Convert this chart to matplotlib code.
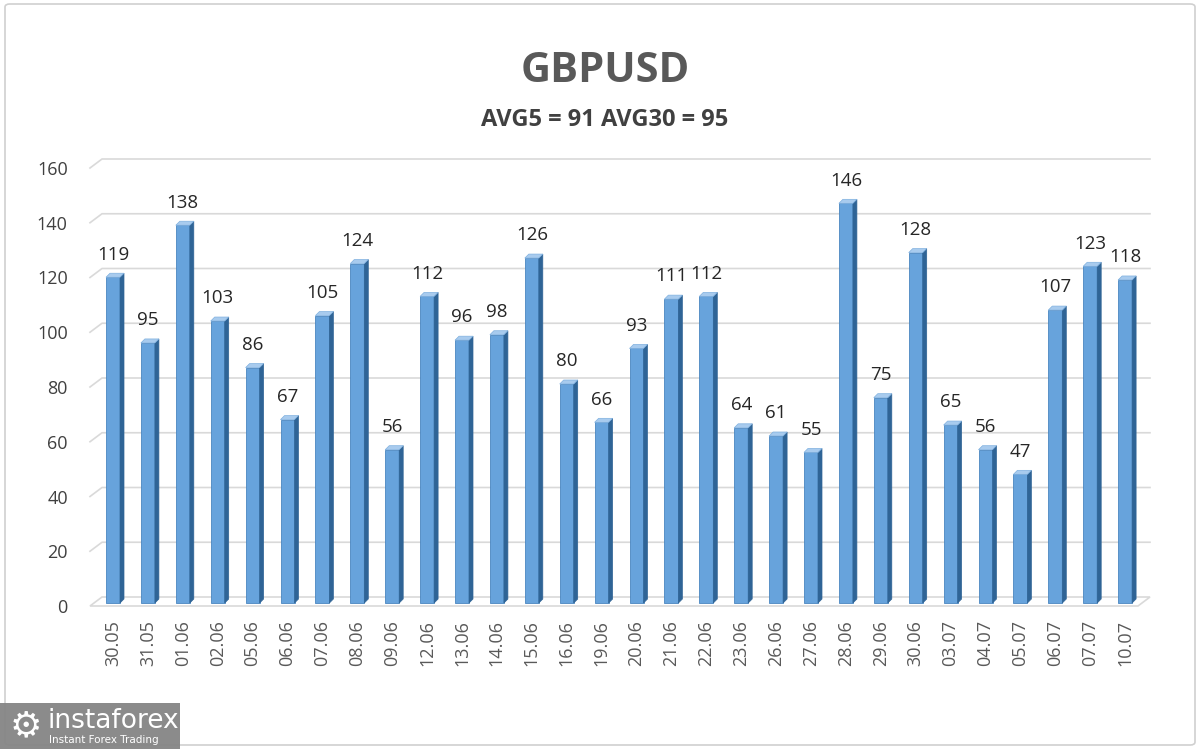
import matplotlib
matplotlib.use("Agg")
import matplotlib.pyplot as plt
from matplotlib.patches import Rectangle, Polygon, FancyBboxPatch

dates = ["30.05", "31.05", "01.06", "02.06", "05.06", "06.06", "07.06", "08.06",
         "09.06", "12.06", "13.06", "14.06", "15.06", "16.06", "19.06", "20.06",
         "21.06", "22.06", "23.06", "26.06", "27.06", "28.06", "29.06", "30.06",
         "03.07", "04.07", "05.07", "06.07", "07.07", "10.07"]
values = [119, 95, 138, 103, 86, 67, 105, 124, 56, 112, 96, 98, 126, 80, 66, 93,
          111, 112, 64, 61, 55, 146, 75, 128, 65, 56, 47, 107, 123, 118]
yticks = [0, 20, 40, 60, 80, 100, 120, 140, 160]
title = "GBPUSD"
subtitle = "AVG5 = 91 AVG30 = 95"

plt.rcParams['font.family'] = ['Open Sans', 'DejaVu Sans']

W, H = 1200, 749
fig = plt.figure(figsize=(W / 100, H / 100), dpi=100)
fig.patch.set_facecolor("white")

# axes pixel geometry
left_px, right_px = 90, 1150
top_px, bottom_px = 168, 606
x0_px, step_px = 113, 34.9
ax = fig.add_axes([left_px / W, (H - bottom_px) / H, (right_px - left_px) / W,
                   (bottom_px - top_px) / H])
xl = (left_px - x0_px) / step_px
xr = (right_px - x0_px) / step_px
ax.set_xlim(xl, xr)
ax.set_ylim(0, 160)
ux = 1 / step_px
uy = 160 / (bottom_px - top_px)

for s in ax.spines.values():
    s.set_visible(False)

# 3D gridlines (back wall)
gx, gy = 12 * ux, 9 * uy
gcol = "#d9d9d9"
for t in yticks[1:]:
    ax.plot([xl, xl + gx, xr], [t, t + gy, t + gy], color=gcol, lw=1.2,
            clip_on=False, zorder=1)
# floor
floor = Polygon([(xl, 0), (xr - gx, 0), (xr, gy), (xl + gx, gy)], closed=True,
                facecolor="white", edgecolor=gcol, lw=1.2, clip_on=False, zorder=1)
ax.add_patch(floor)

# bars
fw, dx, dy = 14 * ux, 4 * ux, 4 * uy
base = 3 * uy
for i, v in enumerate(values):
    xa = i - fw / 2
    xb = i + fw / 2
    front = Rectangle((xa, base), fw, v, facecolor="#67a3dc", edgecolor="#4a86c0",
                      lw=0.6, zorder=3, clip_on=False)
    side = Polygon([(xb, base), (xb + dx, base + dy), (xb + dx, base + v + dy),
                    (xb, base + v)], closed=True, facecolor="#2f6496",
                   edgecolor="#2f6496", lw=0.5, zorder=3, clip_on=False)
    top = Polygon([(xa, base + v), (xb, base + v), (xb + dx, base + v + dy),
                   (xa + dx, base + v + dy)], closed=True, facecolor="#a8cbee",
                  edgecolor="#7fb0df", lw=0.5, zorder=4, clip_on=False)
    ax.add_patch(front)
    ax.add_patch(side)
    ax.add_patch(top)
    ax.annotate(str(v), (i, base + v + dy), xytext=(0, 7), textcoords="offset points",
                ha="center", va="bottom", fontsize=13.5, color="#262626", zorder=5)

ax.set_yticks(yticks)
ax.set_yticklabels([str(t) for t in yticks], fontsize=13, color="#404040")
ax.set_xticks(range(len(dates)))
ax.set_xticklabels(dates, rotation=90, fontsize=13, color="#595959")
ax.tick_params(axis="y", length=0, pad=16)
ax.tick_params(axis="x", length=0, pad=10)

fig.text(605 / W, 1 - 71 / H, title, ha="center", va="center", fontsize=30,
         fontweight="bold", color="#595959")
fig.text(605 / W, 1 - 120 / H, subtitle, ha="center", va="center", fontsize=17,
         fontweight="bold", color="#404040")

# border
border = FancyBboxPatch((5 / W, 4 / H), 1190 / W, 741 / H,
                        boxstyle="round,pad=0,rounding_size=0.004",
                        transform=fig.transFigure, facecolor="none",
                        edgecolor="#d0d0d0", lw=1.2)
fig.patches.append(border)

# watermark
wm = Rectangle((0, 0), 180 / W, 46 / H, transform=fig.transFigure,
               facecolor="#858585", edgecolor="none", alpha=0.95)
fig.patches.append(wm)
fig.text(26 / W, 23 / H, "\u2699", ha="center", va="center", fontsize=26,
         color="white", family="DejaVu Sans")
fig.text(48 / W, 28 / H, "instaforex", ha="left", va="center", fontsize=19,
         color="white", family="DejaVu Sans")
fig.text(49 / W, 9 / H, "Instant Forex Trading", ha="left", va="center", fontsize=7.5,
         color="white", family="DejaVu Sans")

fig.savefig("out.png", dpi=100)
